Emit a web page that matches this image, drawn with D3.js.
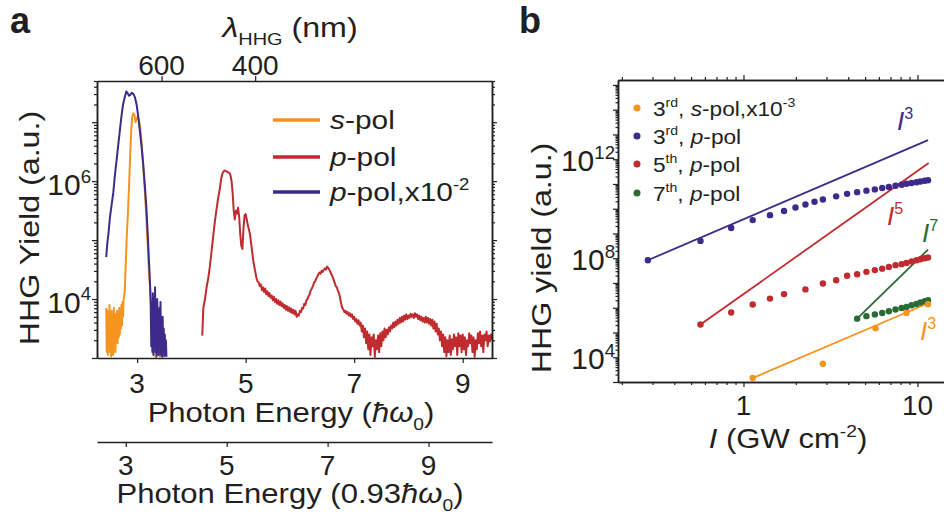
<!DOCTYPE html>
<html><head><meta charset="utf-8">
<script src="https://cdn.jsdelivr.net/npm/d3@7"></script>
<style>
body{margin:0;background:#fff}
text{font-family:"Liberation Sans",Arial,Helvetica,sans-serif;fill:#231f20}
</style>
</head><body>
<svg id="c" width="944" height="525"></svg>
<script>
// ---------------- DATA ----------------
// Panel a: HHG spectra, [photon energy (ħω0), log10 yield (a.u.)]
const sPol = [[2.43,3.85],[2.44,3.1],[2.45,3.8],[2.46,3.05],[2.47,3.75],[2.48,3.2],[2.49,3.9],[2.50,3.1],[2.51,3.7],[2.52,3.03],[2.53,3.8],[2.54,3.15],[2.55,3.6],[2.56,3.05],[2.57,3.85],[2.58,3.2],[2.59,3.7],[2.60,3.1],[2.61,3.75],[2.62,3.3],[2.63,3.8],[2.64,3.25],[2.65,3.7],[2.66,3.35],[2.67,3.85],[2.68,3.4],[2.69,3.75],[2.70,3.5],[2.71,3.9],[2.72,3.55],[2.73,3.95],[2.74,3.7],[2.75,4.0],[2.77,4.1],[2.79,4.6],[2.81,5.1],[2.83,5.45],[2.85,5.9],[2.87,6.4],[2.89,6.85],[2.91,7.1],[2.93,7.15],[2.95,7.12],[2.97,7.0],[2.99,7.05],[3.01,7.1],[3.03,7.05],[3.05,6.95],[3.07,6.8],[3.09,6.55],[3.11,6.3],[3.13,6.0],[3.15,5.7],[3.17,5.35],[3.19,5.0],[3.21,4.6],[3.23,4.3],[3.25,4.0],[3.27,3.8],[3.28,3.4],[3.29,3.75],[3.30,3.1],[3.31,3.8],[3.32,3.2],[3.33,3.85],[3.34,3.0],[3.35,3.7],[3.36,3.3],[3.37,3.9],[3.38,3.1],[3.39,3.8],[3.40,3.05],[3.41,3.75],[3.42,3.02],[3.43,3.6],[3.44,3.02]];
const pPolScaled = [[2.43,4.71],[2.45,4.95],[2.47,5.1],[2.50,5.4],[2.53,5.6],[2.56,5.8],[2.59,6.1],[2.62,6.35],[2.65,6.6],[2.68,6.85],[2.71,7.1],[2.74,7.3],[2.77,7.42],[2.80,7.52],[2.82,7.5],[2.85,7.45],[2.87,7.46],[2.90,7.5],[2.93,7.48],[2.96,7.42],[2.99,7.3],[3.02,7.1],[3.05,6.85],[3.08,6.6],[3.11,6.3],[3.14,5.95],[3.17,5.55],[3.20,5.0],[3.22,4.6],[3.24,4.2],[3.25,3.9],[3.26,3.2],[3.27,3.95],[3.28,3.1],[3.29,4.1],[3.30,3.05],[3.31,3.9],[3.32,3.2],[3.33,4.2],[3.34,3.1],[3.35,3.8],[3.36,3.03],[3.37,4.0],[3.38,3.1],[3.39,3.7],[3.40,3.05],[3.41,3.85],[3.42,3.2],[3.43,3.95],[3.44,3.05],[3.45,3.6],[3.46,3.02],[3.47,3.7],[3.48,3.1],[3.49,3.5],[3.50,3.03],[3.51,3.4],[3.52,3.05],[3.53,3.3],[3.54,3.02]];
const pPol = [[4.20,3.38],[4.22,3.85],[4.25,4.0],[4.28,4.2],[4.31,4.35],[4.34,4.55],[4.37,4.8],[4.40,5.05],[4.43,5.3],[4.46,5.5],[4.49,5.7],[4.52,5.85],[4.55,6.05],[4.58,6.15],[4.61,6.18],[4.64,6.17],[4.67,6.15],[4.70,6.14],[4.72,6.1],[4.74,6.0],[4.76,5.8],[4.78,5.5],[4.80,5.35],[4.82,5.5],[4.84,5.45],[4.86,5.55],[4.88,5.4],[4.90,5.1],[4.92,4.9],[4.94,4.85],[4.96,5.2],[4.98,5.42],[5.00,5.44],[5.02,5.35],[5.04,5.25],[5.06,5.18],[5.08,5.1],[5.10,4.95],[5.12,4.8],[5.14,4.65],[5.16,4.55],[5.18,4.45],[5.20,4.35],[5.22,4.3],[5.24,4.28],[5.26,4.22],[5.28,4.25],[5.30,4.15],[5.32,4.2],[5.34,4.12],[5.36,4.18],[5.38,4.08],[5.40,4.13],[5.42,4.05],[5.44,4.1],[5.46,4.02],[5.48,4.06],[5.50,3.98],[5.52,4.04],[5.54,3.95],[5.56,4.0],[5.58,3.92],[5.60,3.98],[5.62,3.9],[5.64,3.96],[5.66,3.88],[5.68,3.93],[5.70,3.85],[5.72,3.9],[5.74,3.82],[5.76,3.88],[5.78,3.8],[5.80,3.86],[5.82,3.78],[5.84,3.84],[5.86,3.76],[5.88,3.82],[5.90,3.74],[5.92,3.8],[5.94,3.7],[5.96,3.74],[5.98,3.72],[6.00,3.8],[6.02,3.78],[6.04,3.85],[6.06,3.84],[6.08,3.92],[6.10,3.9],[6.12,3.98],[6.14,4.0],[6.16,4.05],[6.18,4.08],[6.20,4.15],[6.22,4.18],[6.24,4.22],[6.26,4.28],[6.28,4.3],[6.30,4.35],[6.32,4.38],[6.34,4.42],[6.36,4.45],[6.38,4.43],[6.40,4.48],[6.42,4.46],[6.44,4.5],[6.46,4.52],[6.48,4.5],[6.50,4.55],[6.52,4.53],[6.54,4.5],[6.56,4.46],[6.58,4.42],[6.60,4.38],[6.62,4.33],[6.64,4.28],[6.66,4.22],[6.68,4.2],[6.70,4.14],[6.72,4.1],[6.74,4.02],[6.76,3.92],[6.78,3.85],[6.80,3.82],[6.82,3.78],[6.84,3.8],[6.86,3.75],[6.88,3.78],[6.90,3.72],[6.92,3.76],[6.94,3.7],[6.96,3.74],[6.98,3.66],[7.00,3.7],[7.02,3.62],[7.04,3.66],[7.06,3.58],[7.08,3.64],[7.10,3.55],[7.12,3.6],[7.14,3.45],[7.16,3.55],[7.18,3.35],[7.20,3.5],[7.22,3.25],[7.24,3.45],[7.26,3.15],[7.28,3.4],[7.30,3.05],[7.32,3.35],[7.34,3.2],[7.36,3.4],[7.38,3.02],[7.40,3.3],[7.42,3.15],[7.44,3.38],[7.46,3.1],[7.48,3.42],[7.50,3.2],[7.52,3.45],[7.54,3.3],[7.56,3.5],[7.58,3.35],[7.60,3.48],[7.62,3.4],[7.64,3.52],[7.66,3.45],[7.68,3.55],[7.70,3.5],[7.72,3.6],[7.74,3.52],[7.76,3.62],[7.78,3.55],[7.80,3.65],[7.82,3.58],[7.84,3.68],[7.86,3.6],[7.88,3.7],[7.90,3.62],[7.92,3.72],[7.94,3.65],[7.96,3.74],[7.98,3.66],[8.00,3.72],[8.02,3.68],[8.04,3.75],[8.06,3.7],[8.08,3.74],[8.10,3.68],[8.12,3.76],[8.14,3.7],[8.16,3.74],[8.18,3.66],[8.20,3.72],[8.22,3.64],[8.24,3.7],[8.26,3.62],[8.28,3.68],[8.30,3.6],[8.32,3.7],[8.34,3.6],[8.36,3.68],[8.38,3.58],[8.40,3.66],[8.42,3.55],[8.44,3.65],[8.46,3.5],[8.48,3.62],[8.50,3.45],[8.52,3.58],[8.54,3.4],[8.56,3.5],[8.58,3.3],[8.60,3.45],[8.62,3.2],[8.64,3.4],[8.66,3.1],[8.68,3.35],[8.70,3.03],[8.72,3.3],[8.74,3.1],[8.76,3.38],[8.78,3.05],[8.80,3.32],[8.82,3.15],[8.84,3.4],[8.86,3.2],[8.88,3.35],[8.90,3.05],[8.92,3.42],[8.94,3.2],[8.96,3.38],[8.98,3.1],[9.00,3.4],[9.02,3.15],[9.04,3.35],[9.06,3.05],[9.08,3.3],[9.10,3.2],[9.12,3.42],[9.14,3.25],[9.16,3.38],[9.18,3.1],[9.20,3.35],[9.22,3.02],[9.24,3.3],[9.26,3.15],[9.28,3.42],[9.30,3.25],[9.32,3.45],[9.34,3.2],[9.36,3.38],[9.38,3.1],[9.40,3.4],[9.42,3.3],[9.44,3.45],[9.46,3.2],[9.48,3.38],[9.50,3.28],[9.52,3.4],[9.54,3.3]];
const energyTicks = [3, 5, 7, 9];
const energyTicks093 = [3, 5, 7, 9];
const lambdaTicks = [600, 400];      // nm
const lambda0 = 2070;                // nm, fundamental (E = lambda0/lambda in ħω0)
const yExpA = [4, 6];

// Panel b: intensity scaling, [I (GW cm^-2), log10 yield]
const s3 = [[1.13,3.16],[2.86,3.74],[5.74,5.17],[8.65,5.79],[11.5,6.14]];
const p3 = [[0.282,7.92],[0.566,8.70],[0.85,9.22],[1.13,9.54],[1.42,9.74],[1.71,9.91],[1.99,10.05],[2.27,10.17],[2.56,10.28],[2.86,10.37],[3.41,10.50],[3.94,10.60],[4.50,10.67],[5.09,10.73],[5.69,10.78],[6.27,10.84],[6.85,10.88],[7.48,10.93],[8.11,10.97],[8.65,11.01],[9.25,11.04],[9.87,11.07],[10.4,11.10],[11.0,11.13],[11.5,11.15]];
const p5 = [[0.566,5.32],[0.85,5.81],[1.13,6.13],[1.42,6.37],[1.71,6.55],[2.27,6.74],[2.86,6.98],[3.41,7.11],[3.94,7.29],[4.50,7.35],[5.09,7.45],[5.69,7.52],[6.27,7.58],[6.85,7.65],[7.48,7.72],[8.11,7.76],[8.65,7.81],[9.25,7.87],[9.87,7.92],[10.4,7.96],[11.0,8.00],[11.5,8.03]];
const p7 = [[4.50,5.56],[5.09,5.66],[5.69,5.73],[6.27,5.79],[6.85,5.86],[7.48,5.93],[8.11,5.99],[8.65,6.03],[9.25,6.10],[9.87,6.15],[10.4,6.21],[11.0,6.26],[11.5,6.30]];
const fitS3 = [[1.13,3.16],[11.6,6.19]];
const fitP3 = [[0.282,7.92],[11.5,12.77]];
const fitP5 = [[0.566,5.32],[11.6,11.85]];
const fitP7 = [[4.5,5.56],[11.5,8.35]];
const xTicksB = [1, 10];
const yExpB = [4, 8, 12];

// ---------------- STYLE ----------------
const C = {orange:"#F7941E", red:"#BF2B2E", purple:"#3D2A8A", green:"#2B6A35", ink:"#231f20"};
const SX = 1.15;  // horizontal text stretch seen in the reference

const svg = d3.select("#c");

function rich(sel, x, y, parts, size, opt = {}) {
  const g = sel.append("g").attr("transform",
    `translate(${x},${y}) rotate(${opt.rotate||0}) scale(${opt.sx||1},1)`);
  const t = g.append("text").attr("font-size", size)
    .attr("text-anchor", opt.anchor || "start");
  if (opt.bold) t.attr("font-weight", "bold");
  if (opt.fill) t.style("fill", opt.fill);
  let shift = 0;
  parts.forEach(p => {
    const [s, kind] = Array.isArray(p) ? p : [p, ""];
    let target = 0, fs = size;
    if (kind.includes("sup")) { target = -size * 0.42; fs = size * 0.62; }
    if (kind.includes("sub")) { target = size * 0.28; fs = size * 0.62; }
    const sp = t.append("tspan").text(s).attr("font-size", fs).attr("dy", target - shift);
    if (kind.includes("i")) sp.attr("font-style", "italic");
    shift = target;
  });
  return t;
}
function styleAxis(g, w) {
  g.select(".domain").attr("stroke", C.ink).attr("stroke-width", w || 1.5);
  g.selectAll(".tick line").attr("stroke", C.ink).attr("stroke-width", 1.2);
  g.selectAll(".tick text").remove();
}
function logMinor(e0, e1, lo, hi) {
  const out = [];
  for (let e = e0; e <= e1; e++) for (let m = 2; m <= 9; m++) {
    const v = m * Math.pow(10, e); if (v >= lo && v <= hi) out.push(v);
  }
  return out;
}

// ---------------- PANEL A ----------------
const xA = d3.scaleLinear().domain([2.26, 9.54]).range([97, 492]);
const xA2 = d3.scaleLinear().domain([2.26 / 0.93, 9.54 / 0.93]).range([97, 492]);
const yA = d3.scaleLog().domain([1e3, 5e7]).range([358, 81]);

const ga = svg.append("g");
ga.append("clipPath").attr("id", "clipA").append("rect")
  .attr("x", 97).attr("y", 81).attr("width", 395).attr("height", 277);

const lineA = d3.line().x(d => xA(d[0])).y(d => yA(Math.pow(10, d[1])));
const series = [[pPol, C.red], [sPol, C.orange], [pPolScaled, C.purple]];
ga.append("g").attr("clip-path", "url(#clipA)").selectAll("path").data(series).join("path")
  .attr("d", d => lineA(d[0])).attr("fill", "none").attr("stroke", d => d[1])
  .attr("stroke-width", 2).attr("stroke-linejoin", "round");

const yMajA = [1e3, 1e4, 1e5, 1e6, 1e7];
const yMinA = logMinor(3, 7, 1e3, 5e7);
[[d3.axisLeft, 97], [d3.axisRight, 492]].forEach(([ax, x]) => {
  ga.append("g").attr("transform", `translate(${x},0)`)
    .call(ax(yA).tickValues(yMinA).tickSize(3).tickSizeOuter(0)).call(styleAxis);
  ga.append("g").attr("transform", `translate(${x},0)`)
    .call(ax(yA).tickValues(yMajA).tickSize(5).tickSizeOuter(0)).call(styleAxis);
});
ga.append("g").attr("transform", "translate(0,358)")
  .call(d3.axisBottom(xA).tickValues(energyTicks).tickSize(5).tickSizeOuter(0)).call(styleAxis);
ga.append("g").attr("transform", "translate(0,81)")
  .call(d3.axisTop(xA).tickValues(lambdaTicks.map(l => lambda0 / l)).tickSize(5).tickSizeOuter(0)).call(styleAxis);
ga.append("g").attr("transform", "translate(0,442)")
  .call(d3.axisBottom(xA2).tickValues(energyTicks093).tickSize(5).tickSizeOuter(0)).call(styleAxis);

// tick labels
energyTicks.forEach(v => rich(ga, xA(v), 393, [String(v)], 28, {anchor: "middle"}));
energyTicks093.forEach(v => rich(ga, xA2(v), 475, [String(v)], 28, {anchor: "middle"}));
lambdaTicks.forEach(l => rich(ga, xA(lambda0 / l), 75, [String(l)], 28, {anchor: "middle"}));
yExpA.forEach(e => rich(ga, 91, yA(Math.pow(10, e)) + 14, ["10", [String(e), "sup"]], 30, {anchor: "end"}));

// titles
rich(ga, 291, 422, ["Photon Energy (", ["ħω", "i"], ["0", "sub"], [")", ""]], 27, {anchor: "middle", sx: SX});
rich(ga, 290, 503, ["Photon Energy (0.93", ["ħω", "i"], ["0", "sub"], [")", ""]], 27, {anchor: "middle", sx: SX});
rich(ga, 290, 37, [["λ", "i"], ["HHG", "sub"], [" (nm)", ""]], 28, {anchor: "middle", sx: SX});
rich(ga, 39, 228, ["HHG Yield (a.u.)"], 28, {anchor: "middle", rotate: -90, sx: SX});
rich(ga, 10, 33, ["a"], 36, {bold: true});

// legend a
const legA = [
  [[["s", "i"], ["-pol", ""]], C.orange, 120],
  [[["p", "i"], ["-pol", ""]], C.red, 157],
  [[["p", "i"], ["-pol,x10", ""], ["-2", "sup"]], C.purple, 192]
];
legA.forEach(([parts, col, y]) => {
  ga.append("line").attr("x1", 273).attr("x2", 320).attr("y1", y).attr("y2", y)
    .attr("stroke", col).attr("stroke-width", 3.5);
  rich(ga, 330, y + 9, parts, 26, {sx: SX});
});

// ---------------- PANEL B ----------------
const xB = d3.scaleLog().domain([0.19, 15]).range([618, 948.1]);
const yB = d3.scaleLog().domain([1e3, Math.pow(10, 15.2)]).range([382, 80]);
const gb = svg.append("g");
gb.append("clipPath").attr("id", "clipB").append("rect")
  .attr("x", 618).attr("y", 80).attr("width", 340).attr("height", 302);

const yMajB = d3.range(3, 16).map(e => Math.pow(10, e));
const yMinB = logMinor(3, 15, 1e3, Math.pow(10, 15.2));
gb.append("g").attr("transform", "translate(618,0)")
  .call(d3.axisLeft(yB).tickValues(yMinB).tickSize(2.5).tickSizeOuter(0)).call(styleAxis);
gb.append("g").attr("transform", "translate(618,0)")
  .call(d3.axisLeft(yB).tickValues(yMajB).tickSize(5).tickSizeOuter(0)).call(styleAxis);
const xMinB = logMinor(-1, 1, 0.19, 15);
[[d3.axisBottom, 382], [d3.axisTop, 80]].forEach(([ax, y]) => {
  gb.append("g").attr("transform", `translate(0,${y})`)
    .call(ax(xB).tickValues(xMinB).tickSize(3).tickSizeOuter(0)).call(styleAxis);
  gb.append("g").attr("transform", `translate(0,${y})`)
    .call(ax(xB).tickValues(xTicksB).tickSize(5).tickSizeOuter(0)).call(styleAxis);
});

const lineB = d3.line().x(d => xB(d[0])).y(d => yB(Math.pow(10, d[1])));
const plotB = gb.append("g").attr("clip-path", "url(#clipB)");
[[fitP3, C.purple], [fitP5, C.red], [fitP7, C.green], [fitS3, C.orange]].forEach(([d, col]) => {
  plotB.append("path").attr("d", lineB(d)).attr("fill", "none").attr("stroke", col).attr("stroke-width", 1.8);
});
[[p3, C.purple], [p5, C.red], [p7, C.green], [s3, C.orange]].forEach(([d, col]) => {
  plotB.append("g").selectAll("circle").data(d).join("circle")
    .attr("cx", v => xB(v[0])).attr("cy", v => yB(Math.pow(10, v[1]))).attr("r", 3.2).attr("fill", col);
});

xTicksB.forEach(v => rich(gb, xB(v), 415, [String(v)], 28, {anchor: "middle"}));
yExpB.forEach(e => rich(gb, 615, yB(Math.pow(10, e)) + 12, ["10", [String(e), "sup"]], 30, {anchor: "end"}));
rich(gb, 788, 448, [["I", "i"], [" (GW cm", ""], ["-2", "sup"], [")", ""]], 27, {anchor: "middle", sx: SX});
rich(gb, 551, 258, ["HHG yield (a.u.)"], 28, {anchor: "middle", rotate: -90, sx: SX});
rich(gb, 519, 33, ["b"], 36, {bold: true});

// power-law labels
[[897, 130, "3", C.purple], [887, 225, "5", C.red], [922, 242, "7", C.green], [920, 340, "3", C.orange]]
  .forEach(([x, y, n, col]) => rich(gb, x, y, [["I", "i"], [n, "sup"]], 26, {fill: col}));

// legend b
const legB = [
  [["3", ["rd", "sup"], [", ", ""], ["s", "i"], ["-pol,x10", ""], ["-3", "sup"]], C.orange, 108],
  [["3", ["rd", "sup"], [", ", ""], ["p", "i"], ["-pol", ""]], C.purple, 136],
  [["5", ["th", "sup"], [", ", ""], ["p", "i"], ["-pol", ""]], C.red, 164],
  [["7", ["th", "sup"], [", ", ""], ["p", "i"], ["-pol", ""]], C.green, 193]
];
legB.forEach(([parts, col, y]) => {
  gb.append("circle").attr("cx", 637).attr("cy", y).attr("r", 3.5).attr("fill", col);
  rich(gb, 653, y + 8, parts, 21, {sx: 1.08});
});
</script>
</body></html>
